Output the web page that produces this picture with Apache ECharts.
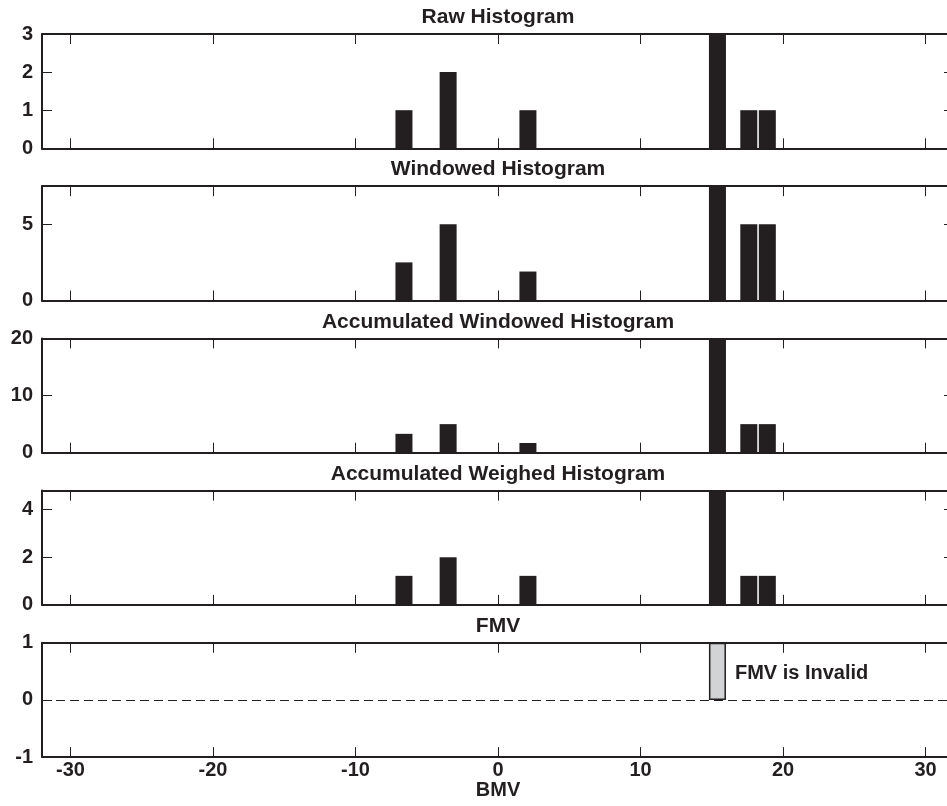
<!DOCTYPE html>
<html>
<head>
<meta charset="utf-8">
<title>BMV histograms</title>
<script src="https://cdn.jsdelivr.net/npm/echarts@6/dist/echarts.min.js"></script>
<style>
  html, body { margin: 0; padding: 0; background: #ffffff; }
  #chart { width: 947px; height: 806px; }
</style>
</head>
<body>
<div id="chart"></div>
<script>
// Bin centres (BMV) and the heights of each histogram stage
const bmv = [-6.6, -3.5, 2.1, 15.4, 17.6, 18.9];
const rawHist = [1, 2, 1, 3, 1, 1];
const windowedHist = [2.5, 5, 1.9, 7.5, 5, 5];
const accumWindowedHist = [3.3, 5, 1.7, 20, 5, 5];
const accumWeighedHist = [1.22, 2, 1.22, 4.8, 1.22, 1.22];

// Final motion vector marker
const fmvBmv = [15.4];
const fmvValue = [1];
const fmvText = 'FMV is Invalid';

// Panel titles, y ranges and tick labels
const panelTitles = ['Raw Histogram', 'Windowed Histogram', 'Accumulated Windowed Histogram',
                     'Accumulated Weighed Histogram', 'FMV'];
const yMins = [0, 0, 0, 0, -1];
const yMaxs = [3, 7.5, 20, 4.8, 1];
const yTicks = [[0, 1, 2, 3], [0, 5], [0, 10, 20], [0, 2, 4], [-1, 0, 1]];
const xTicks = [-30, -20, -10, 0, 10, 20, 30];
const xMin = -32, xMax = 32;
const xTitle = 'BMV';

const INK = '#231f20';
const FONT = '"Liberation Sans", Arial, Helvetica, sans-serif';
const chart = echarts.init(document.getElementById('chart'), null, { renderer: 'canvas' });

const panelTop = i => 34 + i * 152.2;
const panelH = 114.3;
const plotLeft = 42, plotW = 912;   // right edge runs just past the canvas

const grids = [], xAxes = [], yAxes = [], series = [], graphics = [];

const frameLine = { show: true, onZero: false, lineStyle: { color: INK, width: 2 } };
const tickStyle = { color: INK, width: 1 };

panelTitles.forEach((t, i) => {
  grids.push({ left: plotLeft, top: panelTop(i), width: plotW, height: panelH,
               containLabel: false, outerBoundsMode: 'none' });
  const last = i === panelTitles.length - 1;
  // bottom and top x axes (box with inward ticks)
  xAxes.push({
    type: 'value', gridIndex: i, min: xMin, max: xMax, position: 'bottom',
    axisLine: frameLine, splitLine: { show: false },
    axisTick: { show: true, inside: true, length: 10, lineStyle: tickStyle, customValues: xTicks },
    axisLabel: { show: last, customValues: xTicks, margin: 3, color: INK,
                 fontFamily: FONT, fontWeight: 'bold', fontSize: 20 },
    name: last ? xTitle : '', nameLocation: 'middle', nameGap: 23, nameMoveOverlap: false,
    nameTextStyle: { color: INK, fontFamily: FONT, fontWeight: 'bold', fontSize: 20 }
  });
  xAxes.push({
    type: 'value', gridIndex: i, min: xMin, max: xMax, position: 'top',
    axisLine: frameLine, splitLine: { show: false },
    axisTick: { show: true, inside: true, length: 10, lineStyle: tickStyle, customValues: xTicks },
    axisLabel: { show: false }
  });
  // left and right y axes
  yAxes.push({
    type: 'value', gridIndex: i, min: yMins[i], max: yMaxs[i], position: 'left',
    axisLine: frameLine, splitLine: { show: false },
    axisTick: { show: true, inside: true, length: 10, lineStyle: tickStyle, customValues: yTicks[i] },
    axisLabel: { show: true, customValues: yTicks[i], margin: 9, color: INK,
                 fontFamily: FONT, fontWeight: 'bold', fontSize: 20 }
  });
  yAxes.push({
    type: 'value', gridIndex: i, min: yMins[i], max: yMaxs[i], position: 'right',
    axisLine: frameLine, splitLine: { show: false },
    axisTick: { show: true, inside: true, length: 10, lineStyle: tickStyle, customValues: yTicks[i] },
    axisLabel: { show: false }
  });
  graphics.push({
    type: 'text', x: plotLeft + 456, y: panelTop(i) - 16.5,
    style: { text: t, fill: INK, font: 'bold 21px ' + FONT, textAlign: 'center', textVerticalAlign: 'middle' }
  });
});

const histData = [rawHist, windowedHist, accumWindowedHist, accumWeighedHist];
histData.forEach((vals, i) => {
  series.push({
    type: 'bar', xAxisIndex: i * 2, yAxisIndex: i * 2, barWidth: 17,
    data: bmv.map((x, k) => [x, vals[k]]),
    itemStyle: { color: INK }, silent: true
  });
});

series.push({
  type: 'bar', xAxisIndex: 8, yAxisIndex: 8, barWidth: 17,
  data: fmvBmv.map((x, k) => [x, fmvValue[k]]),
  itemStyle: { color: '#d1d3d4', borderColor: INK, borderWidth: 1.5 },
  label: { show: true, position: 'right', distance: 9, formatter: fmvText, color: INK,
           fontFamily: FONT, fontWeight: 'bold', fontSize: 20, offset: [0, 2] },
  markLine: {
    silent: true, symbol: ['none', 'none'], label: { show: false },
    lineStyle: { color: INK, width: 1, type: [9, 5] },
    data: [{ yAxis: 0 }]
  },
  silent: true
});

chart.setOption({
  animation: false,
  backgroundColor: '#ffffff',
  grid: grids,
  xAxis: xAxes,
  yAxis: yAxes,
  series: series,
  graphic: graphics
});
</script>
</body>
</html>
